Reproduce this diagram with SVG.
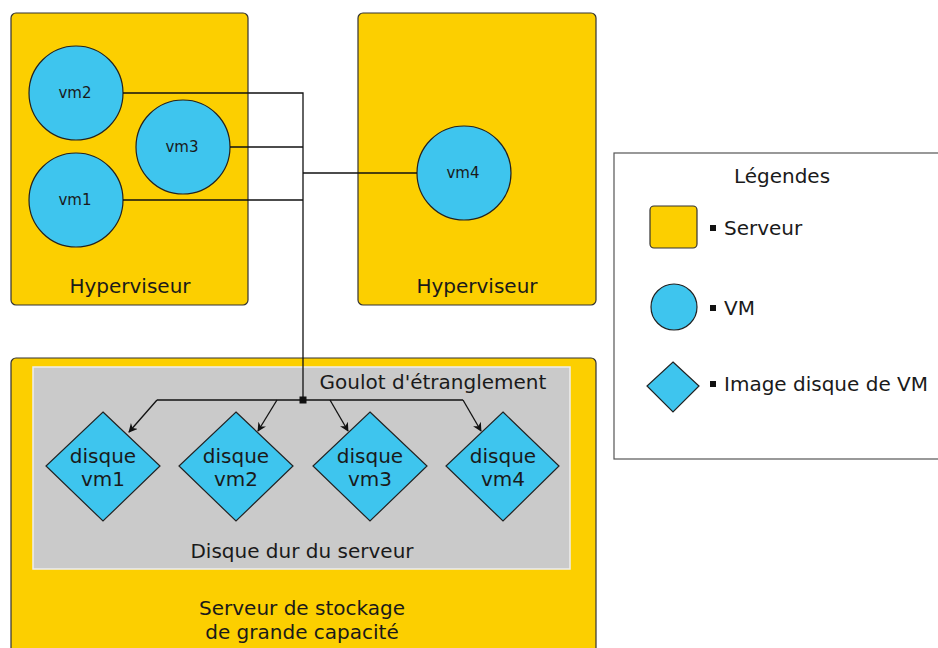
<svg xmlns="http://www.w3.org/2000/svg" width="938" height="648" viewBox="0 0 938 648">
<defs>
<style>
.srv{fill:#FCCF00;stroke:#333;stroke-width:1.2}
.vm{fill:#3EC5EE;stroke:#222;stroke-width:1.2}
.dk{fill:#3EC5EE;stroke:#222;stroke-width:1.2}
.t{font-family:"DejaVu Sans",sans-serif;fill:#1a1a1a;font-size:20px}
.s{font-size:15px}
.ln{fill:none;stroke:#111;stroke-width:1.3}
</style>
<marker id="ah" viewBox="0 0 10 10" refX="9" refY="5" markerWidth="9" markerHeight="9" orient="auto" markerUnits="userSpaceOnUse">
<path d="M0,0 L10,5 L0,10 L3,5 Z" fill="#111"/>
</marker>
</defs>
<rect width="938" height="648" fill="#fff"/>

<g id="hyperviseur1">
<rect class="srv" x="11" y="13" width="237" height="292" rx="5"/>
<text class="t" x="130" y="293" text-anchor="middle">Hyperviseur</text>
</g>
<g id="hyperviseur2">
<rect class="srv" x="358" y="13" width="238" height="292" rx="5"/>
<text class="t" x="477" y="293" text-anchor="middle">Hyperviseur</text>
</g>
<g id="stockage">
<rect class="srv" x="11" y="358" width="585" height="300" rx="5"/>
<text class="t" x="302" y="615" text-anchor="middle">Serveur de stockage</text>
<text class="t" x="302" y="639" text-anchor="middle">de grande capacité</text>
</g>
<g id="disque-dur">
<rect x="33" y="367" width="537" height="202" fill="#CACACA" stroke="#EEE" stroke-width="1.5"/>
<text class="t" x="433" y="389" text-anchor="middle" font-size="20.5">Goulot d'étranglement</text>
<text class="t" x="302" y="558" text-anchor="middle">Disque dur du serveur</text>
</g>

<g id="vm2"><circle class="vm" cx="76" cy="93" r="47"/><text class="t s" x="75" y="98" text-anchor="middle">vm2</text></g>
<g id="vm3"><circle class="vm" cx="183" cy="147" r="47"/><text class="t s" x="182" y="152" text-anchor="middle">vm3</text></g>
<g id="vm1"><circle class="vm" cx="76" cy="200" r="47"/><text class="t s" x="75" y="205" text-anchor="middle">vm1</text></g>
<g id="vm4"><circle class="vm" cx="464" cy="173" r="47"/><text class="t s" x="463" y="178" text-anchor="middle">vm4</text></g>

<g id="disque-vm1"><polygon class="dk" points="103,412 160,466 103,521 46,466"/><text class="t" x="103" y="463" text-anchor="middle">disque</text><text class="t" x="103" y="486" text-anchor="middle">vm1</text></g>
<g id="disque-vm2"><polygon class="dk" points="236,412 293,466 236,521 179,466"/><text class="t" x="236" y="463" text-anchor="middle">disque</text><text class="t" x="236" y="486" text-anchor="middle">vm2</text></g>
<g id="disque-vm3"><polygon class="dk" points="370,412 427,466 370,521 313,466"/><text class="t" x="370" y="463" text-anchor="middle">disque</text><text class="t" x="370" y="486" text-anchor="middle">vm3</text></g>
<g id="disque-vm4"><polygon class="dk" points="503,412 559,466 503,521 446,466"/><text class="t" x="503" y="463" text-anchor="middle">disque</text><text class="t" x="503" y="486" text-anchor="middle">vm4</text></g>

<g id="connecteurs">
<path class="ln" d="M123,93 H303 V400"/>
<path class="ln" d="M230,147 H303"/>
<path class="ln" d="M123,200 H303"/>
<path class="ln" d="M303,173 H417"/>
<path class="ln" d="M157,400 H463"/>
<path class="ln" d="M157,400 L129,432" marker-end="url(#ah)"/>
<path class="ln" d="M277,400 L258,431" marker-end="url(#ah)"/>
<path class="ln" d="M330,400 L348,431" marker-end="url(#ah)"/>
<path class="ln" d="M463,400 L481,431" marker-end="url(#ah)"/>
<rect x="299.5" y="396.5" width="7" height="7" fill="#111"/>
</g>

<g id="legende">
<rect x="614" y="153" width="330" height="306" fill="#fff" stroke="#555" stroke-width="1.2"/>
<text class="t" x="782" y="183" text-anchor="middle">Légendes</text>
<rect class="srv" x="650" y="206" width="47" height="42" rx="4"/>
<rect x="710" y="225" width="6" height="6" fill="#111"/>
<text class="t" x="724" y="235">Serveur</text>
<circle class="vm" cx="674" cy="307" r="23"/>
<rect x="710" y="305" width="6" height="6" fill="#111"/>
<text class="t" x="724" y="315">VM</text>
<polygon class="dk" points="673,362 699,386 673,412 647,386"/>
<rect x="710" y="381" width="6" height="6" fill="#111"/>
<text class="t" x="724" y="391">Image disque de VM</text>
</g>
</svg>
